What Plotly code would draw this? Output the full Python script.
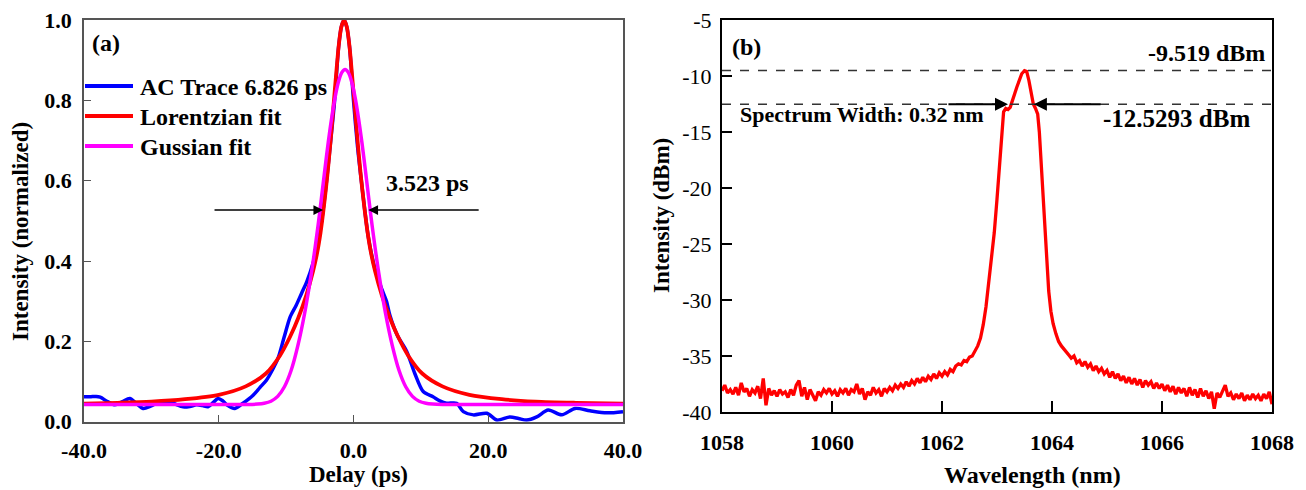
import plotly.graph_objects as go

FONT = "Liberation Serif"
W, H = 1306, 490

# ---------------- Panel (a) data ----------------
ac_delay = [-40.0, -39.1, -38.2, -37.6, -36.5, -35.4, -34.3, -33.2, -32.2, -31.2, -30.2, -29.2,
            -28.2, -27.2, -26.2, -25.3, -24.3, -23.3, -22.4, -21.6, -20.8, -20.1, -19.4, -18.8,
            -17.6, -16.4, -14.9, -13.9, -12.9, -12.0, -11.2, -10.3, -9.4, -8.5, -7.7, -6.9,
            -6.0, -5.2, -4.3, -3.5, -2.8, -2.2, -1.8, -1.4, -1.0, -0.6, 0.0, 0.6, 1.2, 2.2,
            3.2, 4.2, 4.9, 5.4, 6.5, 7.9, 9.1, 10.35, 11.8, 12.8, 13.8, 15.3, 16.3, 17.8, 19.8,
            21.3, 23.2, 24.5, 25.7, 27.2, 28.9, 30.9, 32.9, 35.1, 37.6, 40.0]
ac_int = [0.062, 0.062, 0.063, 0.061, 0.050, 0.042, 0.050, 0.058, 0.045, 0.033, 0.038, 0.046,
          0.050, 0.050, 0.042, 0.037, 0.038, 0.042, 0.040, 0.037, 0.048, 0.058, 0.052, 0.042,
          0.033, 0.046, 0.066, 0.085, 0.104, 0.130, 0.158, 0.210, 0.261, 0.290, 0.320, 0.350,
          0.395, 0.450, 0.555, 0.680, 0.800, 0.935, 0.983, 1.000, 0.983, 0.935, 0.800, 0.685, 0.595, 0.460,
          0.380, 0.330, 0.300, 0.265, 0.215, 0.175, 0.120, 0.075, 0.062, 0.052, 0.046, 0.046, 0.025, 0.017, 0.021,
          0.004, 0.012, 0.008, 0.004, 0.012, 0.029, 0.017, 0.033, 0.027, 0.022, 0.025]

lor_delay = [-40.0, -35.0, -30.0, -25.0, -20.0, -16.0, -13.0, -10.9, -9.4, -8.2, -7.0, -6.0, -5.4,
             -4.9, -4.4, -3.9, -3.4, -3.0, -2.6, -2.2, -1.8, -1.4, -1.0, -0.6, -0.2, 0.2,
             0.6, 1.1, 1.6, 2.1, 2.6, 3.2, 4.2, 5.4, 6.6, 8.1, 10.2, 13.2, 17.2, 22.0, 27.0, 33.0, 40.0]
lor_int = [0.045, 0.047, 0.050, 0.056, 0.067, 0.088, 0.120, 0.165, 0.212, 0.258, 0.315, 0.375, 0.420,
           0.470, 0.535, 0.610, 0.700, 0.780, 0.860, 0.935, 0.983, 1.000, 0.983, 0.935, 0.860, 0.780,
           0.700, 0.610, 0.535, 0.470, 0.420, 0.375, 0.315, 0.258, 0.212, 0.165, 0.120, 0.088, 0.067,
           0.056, 0.050, 0.047, 0.045]

gau_delay = [-40.0, -30.0, -20.0, -15.75, -14.25, -13.25, -12.25, -11.25, -10.25, -9.25, -8.25, -7.25,
             -6.25, -5.25, -4.75, -4.25, -3.75, -3.25, -2.75, -2.25, -1.75, -1.25, -0.75, -0.25,
             0.25, 0.75, 1.25, 1.75, 2.25, 2.75, 3.75, 4.75, 5.75, 6.75, 7.75, 8.75, 9.75, 10.75,
             11.75, 13.25, 20.0, 30.0, 40.0]
gau_int = [0.043, 0.043, 0.043, 0.043, 0.044, 0.046, 0.051, 0.063, 0.087, 0.128, 0.190, 0.270,
           0.370, 0.490, 0.558, 0.628, 0.695, 0.755, 0.806, 0.845, 0.869, 0.877, 0.869, 0.845,
           0.806, 0.755, 0.695, 0.628, 0.558, 0.490, 0.370, 0.270, 0.190, 0.128, 0.087, 0.063, 0.051, 0.046,
           0.044, 0.043, 0.043, 0.043, 0.043]

delay_ticks = [-40, -20, 0, 20, 40]
delay_ticktext = ["-40.0", "-20.0", "0.0", "20.0", "40.0"]
norm_ticks = [0.0, 0.2, 0.4, 0.6, 0.8, 1.0]
norm_ticktext = ["0.0", "0.2", "0.4", "0.6", "0.8", "1.0"]

fwhm_level = 0.527
fwhm_left = -4.5
fwhm_right = 2.2

# ---------------- Panel (b) data ----------------
base_left_start, base_step = 1058.0, 0.05
base_left_db = [-38.1, -37.6, -38.3, -38.0, -38.4, -37.8, -38.5, -37.4, -38.2, -37.9,
                -38.6, -38.0, -38.3, -37.7, -38.8, -37.0, -39.4, -37.9, -38.5, -38.1,
                -38.6, -38.0, -38.4, -38.2, -38.7, -38.0, -38.5, -37.6, -37.2, -38.6,
                -37.8, -38.9, -38.0, -38.5, -39.0, -38.2, -38.5, -38.0, -38.3, -37.9,
                -38.4, -38.1, -38.6, -38.0, -38.3, -37.9, -38.5, -38.0, -38.2, -37.5,
                -38.4, -37.9, -38.9, -38.2, -38.5, -37.8, -38.3, -38.0, -38.6, -37.9,
                -38.2, -37.8, -38.1, -37.6, -37.9, -37.5, -37.8, -37.3, -37.7, -37.2,
                -37.5, -37.0, -37.4, -36.9, -37.3, -36.8, -37.1, -36.6, -37.0, -36.5]

peak_wl = [1062.00, 1062.05, 1062.10, 1062.15, 1062.20, 1062.25, 1062.30, 1062.35, 1062.40, 1062.45,
           1062.50, 1062.55, 1062.60, 1062.65, 1062.70, 1062.75, 1062.80, 1062.85, 1062.90, 1062.95,
           1063.00, 1063.03, 1063.06, 1063.09, 1063.12, 1063.16, 1063.20, 1063.24, 1063.28, 1063.32,
           1063.36, 1063.40, 1063.45, 1063.50, 1063.54, 1063.58, 1063.62, 1063.66, 1063.70, 1063.74,
           1063.77, 1063.80, 1063.83, 1063.86, 1063.90, 1063.94, 1063.98, 1064.02, 1064.07, 1064.12,
           1064.17, 1064.22, 1064.27, 1064.32]
peak_db = [-36.8, -36.4, -36.7, -36.2, -36.4, -35.9, -35.7, -35.8, -35.4, -35.5,
           -35.1, -35.0, -34.6, -34.1, -33.4, -32.2, -30.6, -28.6, -26.5, -24.0,
           -21.0, -19.0, -16.5, -14.2, -13.2, -12.9, -13.0, -12.8, -12.3, -11.6,
           -11.0, -10.4, -9.8, -9.52, -9.6, -10.4, -11.6, -12.5, -12.9, -13.4,
           -15.0, -17.5, -20.5, -23.5, -26.5, -29.2, -31.0, -32.1, -33.0, -33.7,
           -34.1, -34.4, -34.6, -35.0]

base_right_start = 1064.35
base_right_db = [-35.2, -35.0, -35.6, -35.4, -35.9, -35.5, -36.0, -35.7, -36.3, -35.9,
                 -36.4, -36.1, -36.6, -36.3, -36.9, -36.4, -37.0, -36.6, -37.2, -36.8,
                 -37.4, -36.9, -37.5, -37.0, -37.6, -37.1, -37.8, -37.2, -37.6, -37.3,
                 -37.9, -37.4, -37.9, -37.5, -38.1, -37.6, -38.2, -37.7, -38.4, -37.8,
                 -38.3, -37.9, -38.6, -37.8, -38.5, -38.0, -38.7, -37.9, -38.6, -38.1,
                 -38.8, -38.2, -39.7, -38.3, -38.7, -38.2, -37.6, -38.6, -38.3, -38.9,
                 -38.4, -38.8, -38.3, -39.0, -38.5, -38.9, -38.4, -38.8, -38.5, -39.0,
                 -38.4, -38.8, -38.2, -39.3]

wl_ticks = [1058, 1060, 1062, 1064, 1066, 1068]
db_ticks = [-40, -35, -30, -25, -20, -15, -10, -5]
db_ticktext = ["-40", "-35", "-30", "-25", "-20", "-15", "-10", "-5"]
peak_level = -9.519
half_level = -12.5293
width_left_tail, width_left_tip = 1062.09, 1063.20
width_right_tail, width_right_tip = 1064.91, 1063.67

base_left_wl = [round(base_left_start + base_step * i, 2) for i in range(len(base_left_db))]
base_right_wl = [round(base_right_start + base_step * i, 2) for i in range(len(base_right_db))]
spec_wl = base_left_wl + peak_wl + base_right_wl
spec_db = base_left_db + peak_db + base_right_db

# ---------------- Figure ----------------
fig = go.Figure()
fig.add_trace(go.Scatter(x=ac_delay, y=ac_int, mode="lines", line=dict(color="#0000ff", width=3.5, shape="spline", smoothing=0.8),
                         xaxis="x", yaxis="y", showlegend=False))
fig.add_trace(go.Scatter(x=lor_delay, y=lor_int, mode="lines", line=dict(color="#ff0000", width=3.8, shape="spline", smoothing=0.8),
                         xaxis="x", yaxis="y", showlegend=False))
fig.add_trace(go.Scatter(x=gau_delay, y=gau_int, mode="lines", line=dict(color="#ff00ff", width=3.5, shape="spline", smoothing=0.8),
                         xaxis="x", yaxis="y", showlegend=False))
fig.add_trace(go.Scatter(x=spec_wl, y=spec_db, mode="lines", line=dict(color="#ff0000", width=3.3),
                         xaxis="x2", yaxis="y2", showlegend=False))

def px_x(p):
    return p / W

def px_y(p):
    return (H - p) / H

gray = "#555555"
tick_bold = dict(family=FONT, size=22, color="black", weight="bold")

fig.update_layout(
    width=W, height=H, margin=dict(l=0, r=0, t=0, b=0, autoexpand=False),
    paper_bgcolor="white", plot_bgcolor="white",
    font=dict(family=FONT, color="black"),
    xaxis=dict(domain=[px_x(84), px_x(623)], range=[-40, 40], anchor="y", automargin=False,
               tickvals=delay_ticks, ticktext=delay_ticktext, ticks="inside", ticklen=7,
               tickcolor=gray, tickwidth=1.2, showline=True, linecolor=gray, linewidth=1.5,
               mirror=True, showgrid=False, zeroline=False, tickfont=tick_bold, ticklabelstandoff=8),
    yaxis=dict(domain=[px_y(421.7), px_y(20)], range=[0, 1.0], anchor="x", automargin=False,
               tickvals=norm_ticks, ticktext=norm_ticktext, ticks="inside", ticklen=7,
               tickcolor=gray, tickwidth=1.2, showline=True, linecolor=gray, linewidth=1.5,
               mirror=True, showgrid=False, zeroline=False, tickfont=tick_bold, ticklabelstandoff=6),
    xaxis2=dict(domain=[px_x(722), px_x(1272)], range=[1058, 1068], anchor="y2", automargin=False,
                tickvals=wl_ticks, ticks="inside", ticklen=11, tickcolor="black", tickwidth=2,
                showline=True, linecolor="black", linewidth=2, mirror=True, showgrid=False,
                zeroline=False, tickfont=tick_bold, ticklabelstandoff=10),
    yaxis2=dict(domain=[px_y(412), px_y(20)], range=[-40, -5], anchor="x2", automargin=False,
                tickvals=db_ticks, ticktext=db_ticktext, ticks="inside", ticklen=10, tickcolor="black", tickwidth=2,
                showline=True, linecolor="black", linewidth=2, mirror=True, showgrid=False,
                zeroline=False, tickfont=dict(family=FONT, size=22, color="black"), ticklabelstandoff=4),
)

shapes = []
# legend samples (panel a)
for yy, col in [(86, "#0000ff"), (116, "#ff0000"), (146, "#ff00ff")]:
    shapes.append(dict(type="line", xref="paper", yref="paper", x0=px_x(85), x1=px_x(133),
                       y0=px_y(yy), y1=px_y(yy), line=dict(color=col, width=4)))
# dashed reference lines (panel b)
for lv in [peak_level, half_level]:
    shapes.append(dict(type="line", xref="x2", yref="y2", x0=1058, x1=1068, y0=lv, y1=lv,
                       line=dict(color="#333333", width=1.5, dash="dash")))
fig.update_layout(shapes=shapes)

def txt(text, x, y, size, xanchor="left", yanchor="middle", xref="paper", yref="paper", angle=0, bold=True):
    return dict(text=text, x=x, y=y, xref=xref, yref=yref, xanchor=xanchor, yanchor=yanchor,
                showarrow=False, textangle=angle,
                font=dict(family=FONT, size=size, color="black", weight="bold" if bold else "normal"))

def arrow(x_tip, x_tail, y, xref, yref, width):
    return dict(x=x_tip, y=y, ax=x_tail, ay=y, xref=xref, yref=yref, axref=xref, ayref=yref,
                text="", showarrow=True, arrowhead=2, arrowsize=1.3, arrowwidth=width,
                arrowcolor="black", standoff=0)

annotations = [
    txt("(a)", px_x(90), px_y(43), 24),
    txt("AC Trace 6.826 ps", px_x(138), px_y(87), 24),
    txt("Lorentzian fit", px_x(138), px_y(117), 24),
    txt("Gussian fit", px_x(138), px_y(147), 24),
    txt("3.523 ps", 11.0, 0.594, 24, xanchor="center", xref="x", yref="y"),
    arrow(fwhm_left, -20.85, fwhm_level, "x", "y", 1.5),
    arrow(fwhm_right, 18.8, fwhm_level, "x", "y", 1.5),
    txt("Delay (ps)", px_x(358), px_y(474), 23, xanchor="center"),
    txt("Intensity (normalized)", px_x(20), px_y(232), 23, xanchor="center", angle=-90),
    txt("(b)", px_x(730), px_y(47), 24),
    txt("Spectrum Width: 0.32 nm", px_x(738), px_y(114), 22),
    txt("-9.519 dBm", px_x(1267), px_y(53), 24, xanchor="right"),
    txt("-12.5293 dBm", px_x(1252), px_y(118), 25, xanchor="right"),
    arrow(width_left_tip, width_left_tail, half_level, "x2", "y2", 2),
    arrow(width_right_tip, width_right_tail, half_level, "x2", "y2", 2),
    txt("Intensity (dBm)", px_x(662), px_y(216), 23, xanchor="center", angle=-90),
    txt("Wavelength (nm)", px_x(1032), px_y(475), 24, xanchor="center"),
]
fig.update_layout(annotations=annotations)

fig.write_html("out.html")
